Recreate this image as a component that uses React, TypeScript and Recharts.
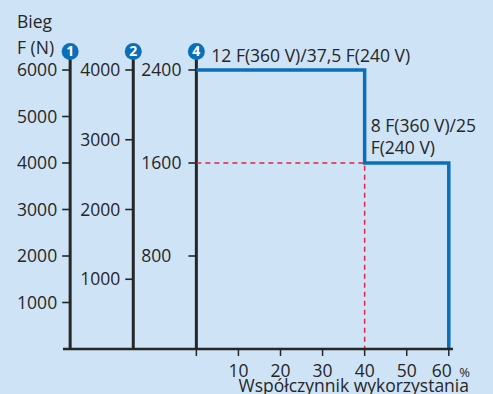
import React from "react";
import {
  ComposedChart,
  Line,
  XAxis,
  YAxis,
  ReferenceLine,
  ReferenceDot,
  Label,
} from "recharts";

// gear axes, drawn inside the chart on the usage (%) scale
const gears = ["1", "2", "4"];
const gearAxisAt = [-30, -15, 0];
const gearAxisIds = ["a", "b", "c"];
const forceTicks1 = [1000, 2000, 3000, 4000, 5000, 6000];
const forceTicks2 = [1000, 2000, 3000, 4000];
const forceTicks4 = [800, 1600, 2400];
const usageTicks = [0, 10, 20, 30, 40, 50, 60];
const markerForce = 6400; // top of the gear axes, on axis "a"

// step curve for gear 4
const stepUsage = [0, 40, 40, 60, 60];
const stepForce = [2400, 2400, 1600, 1600, 0];
// red guide
const guideUsage = [0, 40, 40];
const guideForce = [1600, 1600, 0];

const topNote = "12 F(360 V)/37,5 F(240 V)";
const stepNote = ["8 F(360 V)/25", "F(240 V)"];

const step = stepUsage.map((u, i) => ({ u, f: stepForce[i] }));
const guide = guideUsage.map((u, i) => ({ u, f: guideForce[i] }));

const INK = "#262626";
const BLUE = "#0a6fba";
const RED = "#e5213f";
const BG = "#cee4f6";
const FONT = "'Open Sans', sans-serif";
const FS = 17.5;

const tickMark =
  (label: string, dx: number, anchor: "start" | "end") => (p: any) => (
    <g>
      <line x1={p.cx - 8} y1={p.cy} x2={p.cx} y2={p.cy} stroke={INK} strokeWidth={1.6} />
      <text x={p.cx + dx} y={p.cy + 6} textAnchor={anchor} fontSize={FS} fill={INK} fontFamily={FONT}>
        {label}
      </text>
    </g>
  );

const marker = (n: string) => (p: any) => (
  <g>
    <circle cx={p.cx} cy={p.cy} r={8.5} fill={BLUE} />
    <text x={p.cx} y={p.cy + 5} textAnchor="middle" fontSize={14} fontWeight={700} fill="#fff" fontFamily={FONT}>
      {n}
    </text>
  </g>
);

const UsageTick = ({ x, y, payload }: any) => {
  if (payload.value === 0) return <g />;
  if (payload.value === 60) {
    return (
      <g>
        <text x={x + 3} y={y + 18.5} textAnchor="end" fontSize={FS} fill={INK} fontFamily={FONT}>
          {payload.value}
        </text>
        <text x={x + 10.5} y={y + 18.5} fontSize={13} fill={INK} fontFamily={FONT}>
          %
        </text>
      </g>
    );
  }
  return (
    <text x={x} y={y + 18.5} textAnchor="middle" fontSize={FS} fill={INK} fontFamily={FONT}>
      {payload.value}
    </text>
  );
};

const UsageTitle = ({ viewBox }: any) => (
  <text
    x={viewBox.x + viewBox.width + 16}
    y={viewBox.y + 43}
    textAnchor="end"
    fontSize={FS}
    fill={INK}
    fontFamily={FONT}
  >
    Współczynnik wykorzystania
  </text>
);

export default function App() {
  const tickSets = [forceTicks1, forceTicks2, forceTicks4];
  return (
    <div style={{ position: "relative", width: 493, height: 394, background: BG, overflow: "hidden" }}>
      <style>{"body{margin:0}"}</style>
      <svg width={120} height={60} style={{ position: "absolute", left: 0, top: 0 }}>
        <text x={17} y={28} fontSize={FS} fill={INK} fontFamily={FONT}>Bieg</text>
        <text x={17} y={53.5} fontSize={FS} fill={INK} fontFamily={FONT}>F (N)</text>
      </svg>
      <ComposedChart
        width={493}
        height={394}
        margin={{ top: 70, right: 40, bottom: 15, left: 63 }}
        style={{ position: "absolute", left: 0, top: 0 }}
      >
        <XAxis
          dataKey="u"
          type="number"
          domain={[-31.7, 61]}
          ticks={usageTicks}
          interval={0}
          height={30}
          tickSize={7}
          axisLine={{ stroke: INK, strokeWidth: 2.5 }}
          tickLine={{ stroke: INK, strokeWidth: 1.5 }}
          tick={<UsageTick />}
        >
          <Label content={<UsageTitle />} />
        </XAxis>
        <YAxis yAxisId="a" domain={[0, 6000]} allowDataOverflow hide />
        <YAxis yAxisId="b" domain={[0, 4000]} allowDataOverflow hide />
        <YAxis yAxisId="c" domain={[0, 2400]} hide />

        {gearAxisAt.map((x) => (
          <ReferenceLine
            key={"ax" + x}
            yAxisId="a"
            segment={[{ x, y: 0 }, { x, y: markerForce }]}
            stroke={INK}
            strokeWidth={3}
            ifOverflow="visible"
          />
        ))}

        <Line
          yAxisId="c"
          data={guide}
          dataKey="f"
          type="linear"
          stroke={RED}
          strokeWidth={1.5}
          strokeDasharray="5 4"
          dot={false}
          isAnimationActive={false}
        />
        <Line
          yAxisId="c"
          data={step}
          dataKey="f"
          type="linear"
          stroke={BLUE}
          strokeWidth={3.5}
          strokeLinejoin="miter"
          dot={false}
          isAnimationActive={false}
        />

        {tickSets.map((ticks, i) =>
          ticks.map((t) => (
            <ReferenceDot
              key={gears[i] + "-" + t}
              yAxisId={gearAxisIds[i]}
              x={gearAxisAt[i]}
              y={t}
              ifOverflow="visible"
              shape={i === 2 ? tickMark(String(t), -55, "start") : tickMark(String(t), -13, "end")}
            />
          ))
        )}

        {gears.map((g, i) => (
          <ReferenceDot
            key={"m" + g}
            yAxisId="a"
            x={gearAxisAt[i]}
            y={markerForce}
            ifOverflow="visible"
            shape={marker(g)}
          />
        ))}

        <ReferenceDot
          yAxisId="c"
          x={stepUsage[0]}
          y={stepForce[0]}
          ifOverflow="visible"
          shape={(p: any) => (
            <text x={p.cx + 15} y={p.cy - 8} fontSize={FS} fill={INK} fontFamily={FONT}>
              {topNote}
            </text>
          )}
        />
        <ReferenceDot
          yAxisId="c"
          x={stepUsage[2]}
          y={stepForce[2]}
          ifOverflow="visible"
          shape={(p: any) => (
            <text fontSize={FS} fill={INK} fontFamily={FONT}>
              <tspan x={p.cx + 6} y={p.cy - 31}>{stepNote[0]}</tspan>
              <tspan x={p.cx + 6} y={p.cy - 9.5}>{stepNote[1]}</tspan>
            </text>
          )}
        />
      </ComposedChart>
    </div>
  );
}
